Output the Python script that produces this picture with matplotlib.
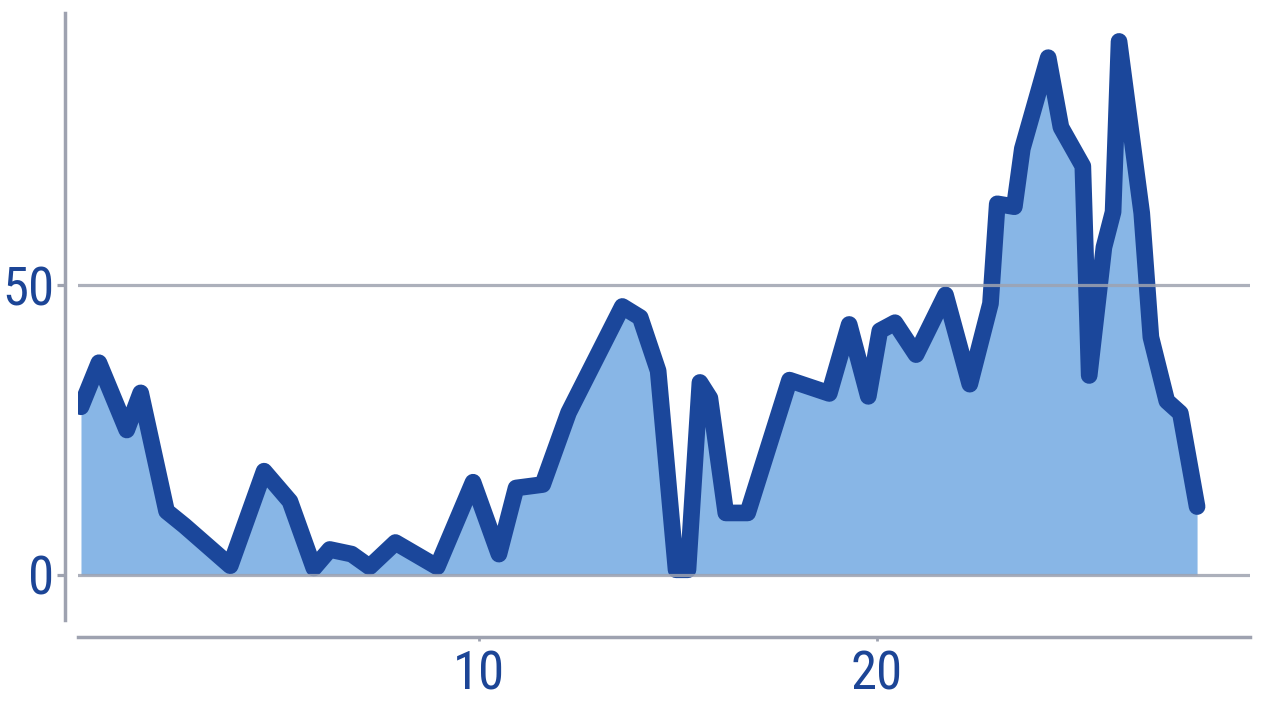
import matplotlib
matplotlib.use("Agg")
import matplotlib.pyplot as plt
from matplotlib import font_manager

# values
xs = [0, 0.45, 1.15, 1.5, 2.15, 2.6, 3.75, 4.6, 5.25, 5.85, 6.25, 6.8, 7.25, 7.9, 8.95,
      9.85, 10.5, 10.93, 11.6, 12.25, 13.6, 14.05, 14.5, 14.95, 15.25, 15.55, 15.8, 16.2,
      16.75, 17.8, 18.8, 19.3, 19.78, 20.07, 20.45, 20.98, 21.72, 22.33, 22.85, 23.02,
      23.45, 23.65, 24.3, 24.62, 25.17, 25.33, 25.7, 25.93, 26.08, 26.65, 26.88, 27.28,
      27.62, 28.04]
ys = [29, 36.6, 25, 31.4, 11, 8.5, 1.6, 17.9, 12.7, 1.2, 4.4, 3.6, 1.4, 5.6, 1.4,
      16, 3.6, 15, 15.6, 28, 46.3, 44.4, 35.2, 0.9, 0.9, 33.2, 30.5, 10.7,
      10.7, 33.6, 31.3, 43.2, 30.8, 42.1, 43.5, 38, 48.3, 32.9, 46.8, 64,
      63.5, 73.5, 89.2, 77.2, 70.5, 34.4, 56.5, 62.6, 92, 62.4, 41, 30,
      27.9, 11.8]
xticks = [10, 20]
yticks = [0, 50]

linecol = '#1b479b'
fillcol = '#88b6e6'
greycol = '#9ea2b0'
textcol = '#1c4596'

def pick_narrow_font():
    # look for a condensed / narrow face among the installed fonts
    prefs = ['Liberation Sans Narrow', 'Roboto Condensed', 'DejaVu Sans Condensed',
             'Open Sans Condensed', 'Noto Sans Condensed']
    found = []
    for f in font_manager.fontManager.ttflist:
        tag = f.name + ' ' + f.fname + ' ' + str(f.stretch)
        if ('Narrow' in tag or 'ondensed' in tag) and f.style == 'normal':
            w = f.weight if isinstance(f.weight, int) else 400
            if 'Bold' in f.fname or 'Italic' in f.fname or 'Oblique' in f.fname:
                continue
            found.append((f, w))
    def rank(item):
        f, w = item
        nm = f.name + ' ' + f.fname
        pi = len(prefs)
        for i, p in enumerate(prefs):
            if p.replace(' ', '') in nm.replace(' ', ''):
                pi = i
                break
        return (pi, abs(w - 400))
    found.sort(key=rank)
    if found:
        return font_manager.FontProperties(fname=found[0][0].fname, size=38)
    return font_manager.FontProperties(family='DejaVu Sans', size=30)

labfont = pick_narrow_font()

fig = plt.figure(figsize=(12.8, 7.2), dpi=100)
ax = fig.add_axes([78/1280, 100/720, 1172/1280, 607/720])

ax.fill_between(xs, ys, 0, color=fillcol, lw=0, zorder=1)
ax.plot(xs, ys, color=linecol, lw=12, solid_joinstyle='round', solid_capstyle='round', zorder=2)
for yv in yticks:
    ax.axhline(yv, color=greycol, lw=2.3, alpha=0.85, zorder=3)

ax.set_xlim(-0.075, 29.37)
ax.set_ylim(-7.76, 96.9)

for s in ['top', 'right']:
    ax.spines[s].set_visible(False)
ax.spines['left'].set_position(('outward', 9.4))
ax.spines['bottom'].set_position(('outward', 12.2))
for s in ['left', 'bottom']:
    ax.spines[s].set_color(greycol)
    ax.spines[s].set_linewidth(2.5)

ax.set_xticks(xticks)
ax.set_yticks(yticks)
ax.set_xticklabels([str(t) for t in xticks])
ax.set_yticklabels([str(t) for t in yticks])
ax.tick_params(axis='y', direction='out', length=5.8, width=2.3, color=greycol,
               labelcolor=textcol, pad=2)
ax.tick_params(axis='x', direction='out', length=3, width=2, color=greycol,
               labelcolor=textcol, pad=6)
for lab in ax.get_xticklabels() + ax.get_yticklabels():
    lab.set_fontproperties(labfont)

fig.savefig('out.png', dpi=100)
